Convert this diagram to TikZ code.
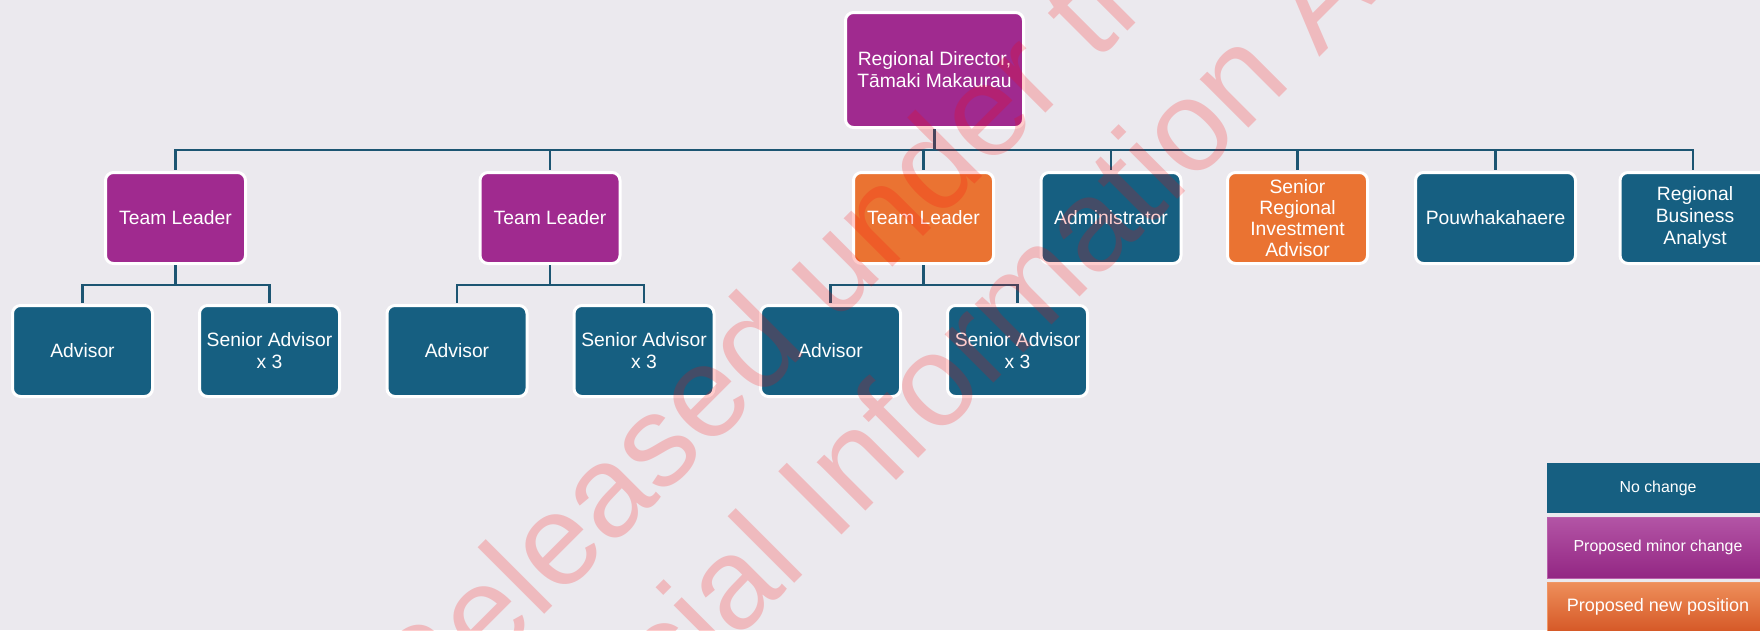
\documentclass[tikz,border=0pt]{standalone}
\usepackage{fontspec}
\setmainfont{Liberation Sans}
\usepackage{tikz}
\usetikzlibrary{calc}
\definecolor{pagebg}{HTML}{EBE9EE}
\definecolor{nochange}{HTML}{165F81}
\definecolor{minorchg}{HTML}{A02A8F}
\definecolor{newpos}{HTML}{EA7332}
\definecolor{linkcol}{HTML}{1C5572}
\tikzset{
  role/.style={draw=white,line width=3pt,rounded corners=8pt,inner sep=0pt,
    minimum width=140pt,minimum height=91pt,align=center,text=white,
    font=\fontsize{19.3}{22}\selectfont},
  boxsame/.style={role,fill=nochange},
  boxminor/.style={role,fill=minorchg},
  boxnew/.style={role,fill=newpos},
  link/.style={draw=linkcol,line width=2.5pt,shorten >=1.5pt},
  keybox/.style={rectangle,inner sep=0pt,minimum width=222pt,minimum height=#1,
    text=white,font=\fontsize{15.9}{18}\selectfont},
}

\begin{document}
\begin{tikzpicture}[x=1pt,y=-1pt]
  \useasboundingbox (0,0) rectangle (1760,630);
  \fill[pagebg] (0,0) rectangle (1760,630);
  \clip (0,0) rectangle (1760,630);

  \coordinate (busy) at (0,150);
  \coordinate (suby) at (0,285);

  % director
  \node[boxminor,minimum width=178pt,minimum height=115pt] (dir) at (934.5,70)
    {Regional Director,\\Tāmaki Makaurau};

  % first level
  \node[boxminor] (tl1) at (175.5,218) {Team Leader};
  \node[boxminor] (tl2) at (550,218) {Team Leader};
  \node[boxnew] (tl3) at (923.5,218) {Team Leader};
  \node[boxsame] (adm) at (1111,218) {Administrator};
  \node[boxnew,font=\fontsize{19.3}{21}\selectfont] (sria) at (1297.5,218)
    {Senior\\Regional\\Investment\\Advisor};
  \node[boxsame,minimum width=160pt] (pou) at (1495.5,218) {Pouwhakahaere};
  \node[boxsame,minimum width=150pt] (rba) at (1695,218)
    {Regional\\Business\\Analyst};

  % teams
  \foreach \t in {1,2,3}{
    \node[boxsame] (adv\t) at ($(tl\t)+(-93,133)$) {Advisor};
    \node[boxsame] (sen\t) at ($(tl\t)+(94,133)$) {Senior Advisor\\x 3};
  }

  \foreach \n in {tl1,tl2,tl3,adm,sria,pou}
    \draw[link] (dir.south) -- (dir.south |- busy) -| (\n.north);
  \draw[link] (dir.south) -- (dir.south |- busy) -| ($(rba.north)+(-2,0)$);
  \foreach \t in {1,2,3}{
    \draw[link] (tl\t.south) -- (tl\t.south |- suby) -| (adv\t.north);
    \draw[link] (tl\t.south) -- (tl\t.south |- suby) -| (sen\t.north);
  }

  % legend
  \node[keybox=50pt,fill=nochange] (keysame) at (1658,488) {No change};
  \node[keybox=61pt,top color=minorchg!80!white,bottom color=minorchg!92!black,
    draw=minorchg!75!white,line width=1pt] (keyminor) at (1658,547.5)
    {Proposed minor change};
  \node[keybox=50pt,top color=newpos!80!white,bottom color=newpos!85!red!90!black,
    draw=newpos!75!white,line width=1pt,font=\fontsize{18}{20}\selectfont]
    (keynew) at (1658,607) {Proposed new position};

  % watermark
  \begin{scope}[every node/.style={text=red,text opacity=0.2,inner sep=0pt,
      font=\fontsize{130}{156}\selectfont,rotate=45,anchor=base west}]
    \node (wmone) at (421,738) {Released under the};
    \node (wmtwo) at (529,848) {Official Information Act};
  \end{scope}
\end{tikzpicture}
\end{document}
